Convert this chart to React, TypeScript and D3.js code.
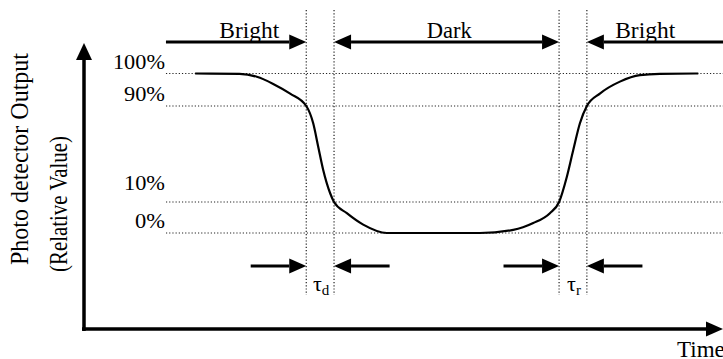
import * as d3 from "d3";

const W = 723;
const H = 359;

// time is in arbitrary units, output in % (schematic, non-linear spacing)
const timeDomain = [0, 23];
const outputTicks = [0, 10, 90, 100];
const outputTickLabels = ["0%", "10%", "90%", "100%"];

const phaseNames = ["Bright", "Dark", "Bright"];
const phaseMid = [5.95, 13.15, 20.2];

// 90% -> 10% (fall) and 10% -> 90% (rise) crossing times
const fallTimes = [8, 9];
const riseTimes = [17.1, 18.1];
const tauSubs = ["d", "r"];

const gridFrom = 2.95;
const tailLen = 2;

const curveTime = [
  4.0, 5.6, 6.22, 6.81, 7.42, 8.0, 8.25, 8.43, 8.61, 8.86, 9.0, 9.46, 10.05,
  10.9, 14.25, 15.45, 16.17, 16.77, 17.1, 17.38, 17.61, 17.85, 18.1, 18.58,
  19.29, 20.01, 20.73, 22.11,
];
const curveOutput = [
  100, 99.9, 99.0, 96.8, 93.8, 90, 75.6, 56.1, 36.7, 17.3, 10, 6.4, 2.7, 0, 0,
  1.0, 3.2, 6.4, 10, 31.1, 53.3, 75.6, 90, 93.9, 97.5, 99.5, 99.9, 100,
];

const FONT = "Times New Roman, Liberation Serif, serif";
const TOP_Y = 42;
const BOTTOM_Y = 266;
const AXIS_Y = 329;

const x = d3.scaleLinear().domain(timeDomain).range([84, W]);
const y = d3.scaleLinear().domain(outputTicks).range([233, 202, 106, 73.5]);

const line = d3
  .line<number>()
  .x((_, i) => x(curveTime[i]))
  .y((v) => y(v))
  .curve(d3.curveMonotoneX);

// arrow with head at x2
function Arrow({ x1, x2, yy, head = 17, hw = 7.5, sw = 3, both = false }: any) {
  const dir = Math.sign(x2 - x1);
  const tri = (tip: number, d: number) =>
    `M${tip},${yy}L${tip - d * head},${yy - hw}L${tip - d * head},${yy + hw}Z`;
  return (
    <g>
      <line
        x1={both ? x1 + dir * head : x1}
        x2={x2 - dir * head}
        y1={yy}
        y2={yy}
        stroke="#000"
        strokeWidth={sw}
      />
      <path d={tri(x2, dir)} fill="#000" />
      {both && <path d={tri(x1, -dir)} fill="#000" />}
    </g>
  );
}

export default function App() {
  const markers = [...fallTimes, ...riseTimes];
  const dotted = { stroke: "#222", strokeWidth: 1.2, strokeDasharray: "1.2 2" };

  return (
    <svg
      width={W}
      height={H}
      fontFamily={FONT}
      style={{ position: "absolute", left: 0, top: 0, background: "#fff" }}
    >
      {/* horizontal reference lines */}
      {outputTicks.map((t) => (
        <line key={t} x1={x(gridFrom)} x2={W} y1={y(t)} y2={y(t)} {...dotted} />
      ))}
      {outputTicks.map((t, i) => (
        <text
          key={"l" + t}
          x={x(gridFrom) - 1}
          y={y(t) - (t === 10 ? 12 : 5)}
          textAnchor="end"
          fontSize={22}
          textLength={t === 100 ? 52 : t === 0 ? 30 : 41}
          lengthAdjust="spacingAndGlyphs"
        >
          {outputTickLabels[i]}
        </text>
      ))}

      {/* vertical markers */}
      {markers.map((m) => (
        <line key={m} x1={x(m)} x2={x(m)} y1={10} y2={295} {...dotted} />
      ))}

      {/* response curve */}
      <path d={line(curveOutput) ?? ""} fill="none" stroke="#000" strokeWidth={2.2} />

      {/* phase arrows */}
      <Arrow x1={x(gridFrom)} x2={x(fallTimes[0])} yy={TOP_Y} />
      <Arrow x1={x(fallTimes[1])} x2={x(riseTimes[0])} yy={TOP_Y} both />
      <Arrow x1={W} x2={x(riseTimes[1])} yy={TOP_Y} />
      {phaseNames.map((n, i) => (
        <text
          key={i}
          x={x(phaseMid[i])}
          y={38}
          textAnchor="middle"
          fontSize={23}
          textLength={n === "Dark" ? 45 : 60}
          lengthAdjust="spacingAndGlyphs"
        >
          {n}
        </text>
      ))}

      {/* time constant arrows */}
      {[fallTimes, riseTimes].map((pair, i) => (
        <g key={i}>
          <Arrow x1={x(pair[0] - tailLen)} x2={x(pair[0])} yy={BOTTOM_Y} />
          <Arrow x1={x(pair[1] + tailLen)} x2={x(pair[1])} yy={BOTTOM_Y} />
          <text
            x={(x(pair[0]) + x(pair[1])) / 2 + 1}
            y={291}
            textAnchor="middle"
            fontSize={22}
          >
            τ
            <tspan fontSize={15} dy={4}>
              {tauSubs[i]}
            </tspan>
          </text>
        </g>
      ))}

      {/* axes */}
      <line x1={x(0)} x2={x(0)} y1={AXIS_Y + 2} y2={58} stroke="#000" strokeWidth={3.5} />
      <path d={`M${x(0)},43L${x(0) - 8},60L${x(0) + 8},60Z`} fill="#000" />
      <line x1={x(0) - 2} x2={W - 15} y1={AXIS_Y} y2={AXIS_Y} stroke="#000" strokeWidth={3.5} />
      <path d={`M${W},${AXIS_Y}L${W - 17},${AXIS_Y - 7.5}L${W - 17},${AXIS_Y + 7.5}Z`} fill="#000" />
      <text x={677} y={357} fontSize={23}>
        Time
      </text>

      {/* y title */}
      <text
        transform="translate(27.5,265) rotate(-90)"
        fontSize={26}
        textLength={212}
        lengthAdjust="spacingAndGlyphs"
      >
        Photo detector Output
      </text>
      <text
        transform="translate(66.5,272) rotate(-90)"
        fontSize={26}
        textLength={136}
        lengthAdjust="spacingAndGlyphs"
      >
        (Relative Value)
      </text>
    </svg>
  );
}
